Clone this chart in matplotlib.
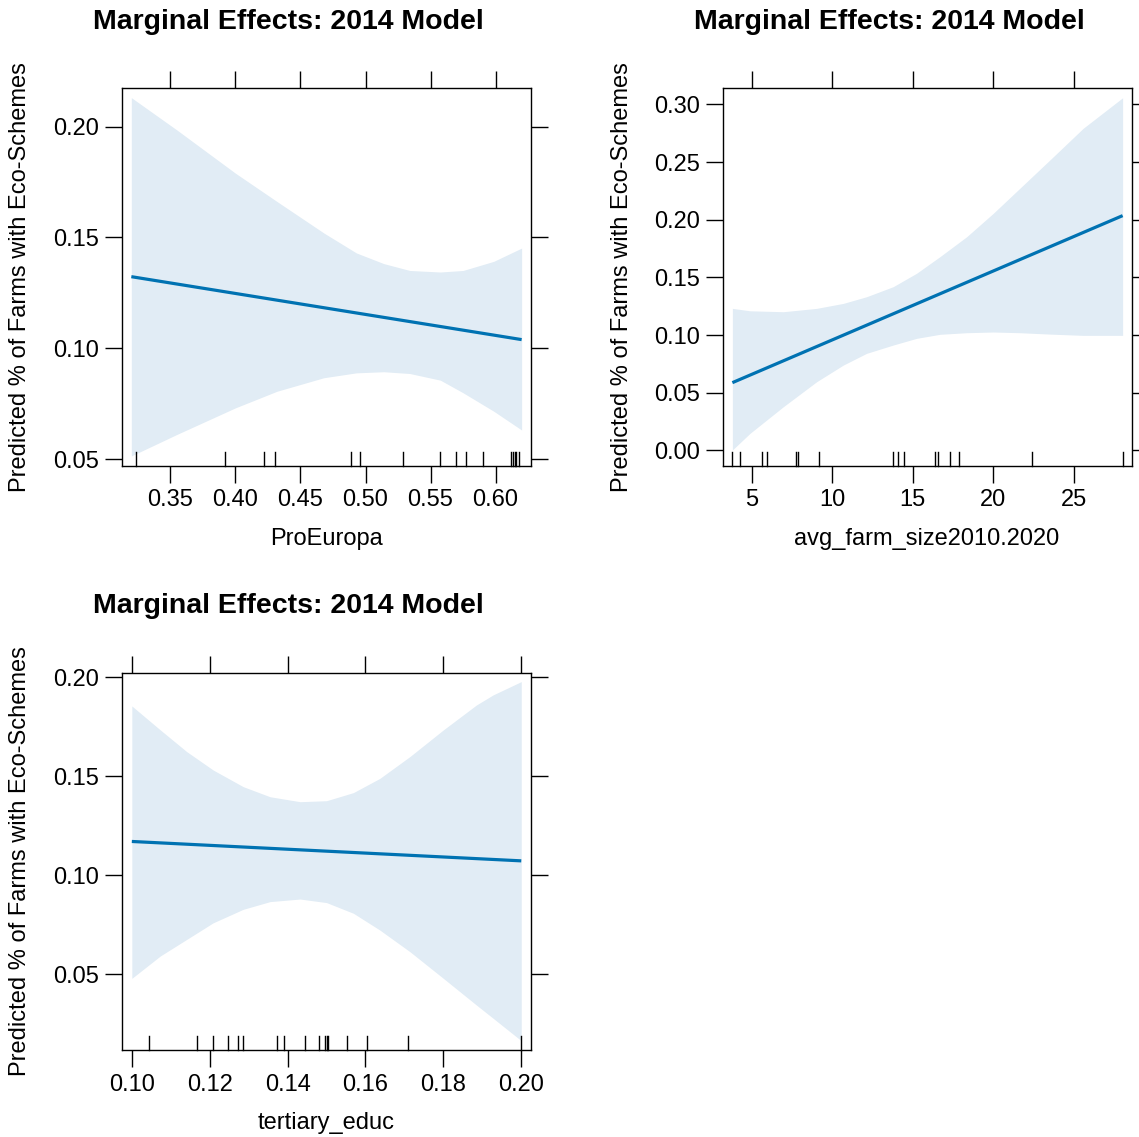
import numpy as np
import matplotlib
matplotlib.use("Agg")
import matplotlib.pyplot as plt
import matplotlib.transforms as mtransforms

plt.rcParams['font.family'] = ['Liberation Sans', 'DejaVu Sans']

# ---------------- data ----------------
title_text = "Marginal Effects: 2014 Model"
ylabel_text = "Predicted % of Farms with Eco-Schemes"

# Panel 1: ProEuropa
pe_x = [0.32, 0.355, 0.40, 0.432, 0.468, 0.493, 0.514, 0.534, 0.5575, 0.575, 0.5985, 0.62]
pe_upper = [0.2131, 0.1985, 0.179, 0.1662, 0.152, 0.143, 0.1382, 0.1351, 0.1344, 0.1351, 0.1392, 0.1452]
pe_lower = [0.0514, 0.0611, 0.0731, 0.0806, 0.0867, 0.0889, 0.0894, 0.0886, 0.0856, 0.0799, 0.0716, 0.0631]
pe_fit_x = [0.32, 0.62]
pe_fit_y = [0.1323, 0.1039]
pe_rug = [0.3236, 0.3923, 0.4218, 0.4303, 0.4892, 0.4957, 0.5285, 0.5572, 0.5695,
          0.5769, 0.5905, 0.6121, 0.6134, 0.6147, 0.6159, 0.6177]
pe_xticks = [0.35, 0.40, 0.45, 0.50, 0.55, 0.60]
pe_yticks = [0.05, 0.10, 0.15, 0.20]

# Panel 2: avg_farm_size2010.2020
fs_x = [3.80, 4.89, 6.96, 9.03, 10.68, 12.13, 13.78, 15.23, 16.68, 18.34, 19.99, 21.64, 23.50, 25.57, 28.02]
fs_upper = [0.1231, 0.1210, 0.1202, 0.1231, 0.1274, 0.1332, 0.1419, 0.1535, 0.1679, 0.1852,
            0.2055, 0.2272, 0.2517, 0.2792, 0.3057]
fs_lower = [0.0003, 0.0147, 0.0378, 0.0595, 0.0739, 0.0841, 0.0913, 0.0971, 0.1006, 0.1020,
            0.1026, 0.1020, 0.1008, 0.0997, 0.0997]
fs_fit_x = [3.80, 28.02]
fs_fit_y = [0.0587, 0.2035]
fs_rug = [3.80, 4.27, 5.64, 5.97, 7.73, 7.87, 9.16, 13.75, 14.08, 14.47, 16.39, 16.54,
          17.30, 17.88, 22.37, 28.02]
fs_xticks = [5, 10, 15, 20, 25]
fs_yticks = [0.00, 0.05, 0.10, 0.15, 0.20, 0.25, 0.30]

# Panel 3: tertiary_educ
te_x = [0.100, 0.1073, 0.1141, 0.1209, 0.1286, 0.1355, 0.1432, 0.150, 0.1569, 0.1637,
        0.1714, 0.180, 0.1885, 0.1928, 0.200]
te_upper = [0.1855, 0.1734, 0.1624, 0.1531, 0.1447, 0.1396, 0.1371, 0.1376, 0.1417, 0.1489,
            0.1599, 0.1734, 0.1860, 0.1911, 0.1978]
te_lower = [0.0478, 0.0591, 0.0675, 0.0759, 0.0827, 0.0866, 0.0879, 0.0861, 0.0807, 0.0722,
            0.0613, 0.0478, 0.0343, 0.0276, 0.0163]
te_fit_x = [0.10, 0.20]
te_fit_y = [0.1170, 0.1072]
te_rug = [0.1045, 0.1168, 0.1208, 0.1248, 0.1272, 0.1286, 0.1373, 0.1392, 0.1445, 0.1480,
          0.1496, 0.1500, 0.1505, 0.1553, 0.1605, 0.1708, 0.1999]
te_xticks = [0.10, 0.12, 0.14, 0.16, 0.18, 0.20]
te_yticks = [0.05, 0.10, 0.15, 0.20]

# ---------------- layout ----------------
W, H = 1139, 1137
fig = plt.figure(figsize=(W / 100, H / 100), dpi=100)

LINE_COL = "#0072B2"
BAND_COL = "#E1ECF5"
FS = 17
TFS = 20.5


def px_rect(left, top, right, bottom):
    return [left / W, 1 - bottom / H, (right - left) / W, (bottom - top) / H]


def panel(rect, x, up, lo, fx, fy, rug, xt, yt, xlim, ylim, xfmt, yfmt,
          title_xy, ylab_xy, xlab_xy, xlab):
    ax = fig.add_axes(rect)
    ax.fill_between(x, lo, up, color=BAND_COL, linewidth=0, zorder=1)
    ax.plot(fx, fy, color=LINE_COL, lw=2.3, solid_capstyle='butt', zorder=3)
    trans = mtransforms.blended_transform_factory(ax.transData, ax.transAxes)
    for r in rug:
        ax.plot([r, r], [0, 0.037], color='black', lw=1.0, transform=trans,
                clip_on=False, zorder=4)
    ax.set_xlim(*xlim)
    ax.set_ylim(*ylim)
    ax.set_xticks(xt)
    ax.set_xticklabels([xfmt.format(v) for v in xt])
    ax.set_yticks(yt)
    ax.set_yticklabels([yfmt.format(v) for v in yt])
    ax.tick_params(axis='both', direction='out', length=12, width=1.0,
                   labelsize=FS, color='black', labelcolor='black',
                   top=True, right=True, labeltop=False, labelright=False)
    ax.tick_params(axis='x', pad=5)
    ax.tick_params(axis='y', pad=4)
    for s in ax.spines.values():
        s.set_linewidth(1.0)
        s.set_color('black')
    fig.text(title_xy[0] / W, 1 - title_xy[1] / H, title_text, ha='center', va='center',
             fontsize=TFS, fontweight='bold')
    fig.text(ylab_xy[0] / W, 1 - ylab_xy[1] / H, ylabel_text, ha='center', va='center',
             rotation=90, fontsize=FS)
    fig.text(xlab_xy[0] / W, 1 - xlab_xy[1] / H, xlab, ha='center', va='center',
             fontsize=FS)
    return ax


panel(px_rect(121.7, 88.3, 531, 465.7), pe_x, pe_upper, pe_lower, pe_fit_x, pe_fit_y,
      pe_rug, pe_xticks, pe_yticks, (0.3126, 0.6272), (0.0470, 0.2173), "{:.2f}", "{:.2f}",
      (288.5, 22), (20, 277), (326, 539), "ProEuropa")

panel(px_rect(722.7, 88.3, 1132.3, 465.7), fs_x, fs_upper, fs_lower, fs_fit_x, fs_fit_y,
      fs_rug, fs_xticks, fs_yticks, (3.2, 28.62), (-0.0133, 0.3139), "{:d}", "{:.2f}",
      (889.5, 22), (622, 277), (927, 539), "avg_farm_size2010.2020")

panel(px_rect(121.7, 672.7, 531, 1050), te_x, te_upper, te_lower, te_fit_x, te_fit_y,
      te_rug, te_xticks, te_yticks, (0.0974, 0.2025), (0.0116, 0.2023), "{:.2f}", "{:.2f}",
      (288.5, 606), (20, 861), (326, 1123), "tertiary_educ")

fig.savefig("out.png", dpi=100)
